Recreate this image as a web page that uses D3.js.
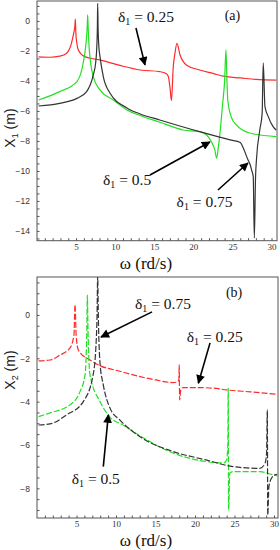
<!DOCTYPE html>
<meta charset="utf-8">
<style>
body { margin: 0; background: #fff; }
</style>
<body>
<script src="https://d3js.org/d3.v7.min.js"></script>
<script>

// ---- panel (a): X1 ----
let w1_025 = [0.2, 1.7, 2.9, 3.8, 4.4, 4.7, 4.85, 4.9, 4.97, 5.1, 5.3, 6.1, 8.0, 10.5, 13.2, 15.7, 16.5, 16.8, 17.0, 17.2, 17.43, 17.65, 17.9, 18.3, 19.1, 20.8, 22.5, 24.0, 26.0, 28.0, 30.6];
let x1_025 = [-2.4, -2.42, -2.35, -2.15, -1.5, -0.8, -0.3, 0.13, -0.8, -1.5, -1.95, -2.38, -2.6, -2.95, -3.27, -3.38, -3.5, -3.7, -4.4, -5.3, -3.05, -2.15, -1.5, -2.27, -2.93, -3.27, -3.5, -3.7, -3.8, -3.9, -3.95];

let w1_05 = [0.2, 2.9, 5.1, 5.9, 6.27, 6.42, 6.48, 6.55, 6.69, 7.2, 8.06, 9.76, 11.5, 13.2, 15.7, 18.7, 20.8, 21.7, 22.3, 22.75, 22.98, 23.2, 23.4, 23.75, 24.0, 24.17, 24.3, 24.4, 24.9, 25.5, 27.2, 30.6];
let x1_05 = [-5.27, -4.71, -4.04, -2.82, -1.47, -0.4, 0.4, -0.5, -1.93, -3.71, -4.6, -5.27, -5.93, -6.3, -6.75, -7.27, -7.38, -7.6, -8.04, -8.6, -9.15, -8.4, -7.5, -5.49, -4.0, -1.93, -4.0, -5.27, -6.47, -6.93, -7.47, -7.71];

let w1_075 = [0.2, 2.9, 5.1, 6.35, 7.2, 7.5, 7.63, 7.72, 7.76, 7.82, 7.9, 8.06, 8.48, 9.33, 11.5, 13.2, 15.7, 20.8, 24.7, 26.0, 26.4, 27.0, 27.2, 27.45, 27.66, 27.8, 27.95, 28.1, 28.5, 28.8, 28.94, 29.16, 29.58, 30.2, 30.6];
let x1_075 = [-5.67, -5.49, -5.16, -4.71, -3.6, -2.8, -1.93, -0.5, 1.18, -0.6, -1.6, -2.38, -3.71, -4.8, -5.8, -6.2, -6.6, -7.38, -7.93, -8.1, -8.49, -9.27, -9.49, -9.93, -10.38, -14.47, -10.5, -9.05, -7.27, -6.16, -2.8, -5.71, -6.38, -7.05, -7.27];

// ---- panel (b): X2 ----
let w2_025 = [0.2, 1.65, 2.91, 4.18, 4.68, 4.81, 4.95, 5.23, 6.71, 7.97, 10.5, 13.04, 15.0, 17.2, 17.7, 17.95, 18.0, 18.05, 18.2, 18.5, 20.0, 22.3, 24.0, 27.0, 30.4];
let x2_025 = [-2.12, -2.08, -1.85, -1.52, -0.92, 0.47, -0.9, -1.62, -2.08, -2.34, -2.6, -2.85, -3.0, -3.12, -3.1, -3.0, -2.3, -3.92, -3.45, -3.35, -3.35, -3.38, -3.46, -3.55, -3.66];

let w2_05 = [0.2, 1.65, 4.18, 5.44, 6.08, 6.3, 6.37, 6.45, 6.71, 7.97, 9.2, 11.0, 13.04, 17.2, 21.5, 23.6, 24.0, 24.15, 24.2, 24.25, 24.4, 24.8, 28.2, 29.9, 30.4];
let x2_05 = [-4.69, -4.52, -4.15, -3.54, -2.77, -0.8, 0.92, -0.6, -2.77, -4.0, -4.7, -5.1, -5.58, -6.37, -6.77, -6.83, -6.69, -6.0, -3.38, -9.0, -7.3, -7.23, -7.23, -7.38, -7.42];

let w2_075 = [0.2, 1.65, 3.76, 5.86, 7.1, 7.45, 7.6, 7.68, 7.76, 7.97, 8.39, 9.24, 10.5, 13.04, 17.2, 21.5, 24.8, 28.2, 28.86, 29.05, 29.15, 29.2, 29.35, 29.7, 30.1, 30.4];
let x2_075 = [-5.08, -5.03, -4.61, -4.0, -2.77, -1.5, 0.0, 1.8, 0.0, -2.2, -3.23, -4.3, -4.85, -5.62, -6.3, -6.7, -7.0, -7.08, -6.85, -6.4, -4.38, -9.23, -7.92, -7.52, -7.38, -7.35];

let xTicks = [5, 10, 15, 20, 25, 30];
let y1Ticks = [0, -2, -4, -6, -8, -10, -12, -14];
let y2Ticks = [0, -2, -4, -6, -8];

let serif = "'Liberation Serif', 'Times New Roman', Times, serif";
let sans = "'Liberation Sans', Arial, sans-serif";

let width = 280, height = 550;
let svg = d3.select("body").append("svg")
    .attr("width", width)
    .attr("height", height);

// arrowhead marker
svg.append("defs").append("marker")
    .attr("id", "head")
    .attr("viewBox", "0 0 10 10")
    .attr("refX", 9).attr("refY", 5)
    .attr("markerWidth", 6).attr("markerHeight", 5.5)
    .attr("markerUnits", "strokeWidth")
    .attr("orient", "auto")
  .append("path")
    .attr("d", "M0,0L10,5L0,10z")
    .attr("fill", "#000");

function panel(cfg) {
  let x = d3.scaleLinear().domain(cfg.xd).range([37, cfg.right]);
  let y = d3.scaleLinear().domain(cfg.yd).range([cfg.bottom, cfg.top]);
  let g = svg.append("g");

  g.append("clipPath").attr("id", cfg.id)
    .append("rect")
      .attr("x", 37).attr("y", cfg.top)
      .attr("width", cfg.right - 37).attr("height", cfg.bottom - cfg.top);

  let line = d3.line()
      .x(d => x(d[0]))
      .y(d => y(d[1]))
      .curve(d3.curveMonotoneX);

  cfg.series.forEach(s => {
    g.append("path")
      .datum(s.w.map((w, i) => [w, s.v[i]]))
      .attr("clip-path", "url(#" + cfg.id + ")")
      .attr("d", line)
      .attr("fill", "none")
      .attr("stroke", s.color)
      .attr("stroke-width", 1.2)
      .attr("stroke-dasharray", cfg.dash);
  });

  // frame
  g.append("rect")
    .attr("x", 37).attr("y", cfg.top)
    .attr("width", cfg.right - 37).attr("height", cfg.bottom - cfg.top)
    .attr("fill", "none").attr("stroke", "#555").attr("stroke-width", 1);

  // x axis, minor ticks inward
  let xa = g.append("g")
    .attr("transform", "translate(0," + cfg.bottom + ")")
    .call(d3.axisTop(x).tickValues(d3.range(1, 31)).tickSize(2.5).tickFormat(""));
  xa.select(".domain").remove();
  xa.selectAll("line").attr("stroke", "#555");
  let xl = g.append("g")
    .attr("transform", "translate(0," + cfg.bottom + ")")
    .call(d3.axisBottom(x).tickValues(xTicks).tickSize(0).tickPadding(3));
  xl.select(".domain").remove();
  xl.selectAll("text").attr("font-family", serif).attr("font-size", 9).attr("fill", "#333");

  let ya = g.append("g")
    .attr("transform", "translate(37,0)")
    .call(d3.axisRight(y).tickValues(d3.range(Math.ceil(cfg.yd[0] * 2) / 2, cfg.yd[1], 0.5)).tickSize(2.5).tickFormat(""));
  ya.select(".domain").remove();
  ya.selectAll("line").attr("stroke", "#555");
  let yl = g.append("g")
    .attr("transform", "translate(37,0)")
    .call(d3.axisLeft(y).tickValues(cfg.yTicks).tickSize(0).tickPadding(7));
  yl.select(".domain").remove();
  yl.selectAll("text").attr("font-family", sans).attr("font-size", 8.5).attr("fill", "#333");

  // axis titles
  g.append("text")
    .attr("x", 146).attr("y", cfg.xTitleY)
    .attr("text-anchor", "middle")
    .attr("font-family", serif).attr("font-size", 17).attr("fill", "#111")
    .text("ω (rd/s)");

  let yt = g.append("text")
    .attr("transform", "translate(15," + cfg.yTitleY + ") rotate(-90)")
    .attr("text-anchor", "middle")
    .attr("font-family", sans).attr("font-size", 14)
    .attr("fill", "#222");
  yt.append("tspan").text("X");
  yt.append("tspan").text(cfg.sub).attr("font-size", 9).attr("dy", 3);
  yt.append("tspan").text(" (m)").attr("dy", -3);

  // panel letter
  g.append("text")
    .attr("x", x(cfg.letter[0])).attr("y", y(cfg.letter[1]))
    .attr("text-anchor", "middle")
    .attr("font-family", serif).attr("font-size", 14).attr("fill", "#111")
    .text(cfg.letter[2]);

  // delta labels with arrows
  cfg.notes.forEach(n => {
    let t = g.append("text")
      .attr("font-family", serif).attr("font-size", 15.5).attr("fill", "#111")
      .attr("x", x(n.at[0])).attr("y", y(n.at[1]));
    t.append("tspan").text("δ");
    t.append("tspan").text("1").attr("font-size", 10).attr("dy", 3);
    t.append("tspan").text(" = " + n.label).attr("dy", -3);
    g.append("line")
      .attr("x1", x(n.from[0])).attr("y1", y(n.from[1]))
      .attr("x2", x(n.to[0])).attr("y2", y(n.to[1]))
      .attr("stroke", "#000").attr("stroke-width", 1.6)
      .attr("marker-end", "url(#head)");
  });
}

panel({
  id: "clipA", xd: [0, 30.7], yd: [-14.65, 1.33], top: 1, bottom: 240.7, right: 277,
  dash: null, yTicks: y1Ticks, sub: "1", xTitleY: 269, yTitleY: 128,
  letter: [25.0, 0.07, "(a)"],
  series: [
    { w: w1_025, v: x1_025, color: "#ff2a2a" },
    { w: w1_05, v: x1_05, color: "#22e022" },
    { w: w1_075, v: x1_075, color: "#333" }
  ],
  notes: [
    { label: "0.25", at: [10.36, -0.07], from: [12.66, -0.47], to: [13.81, -2.93] },
    { label: "0.5", at: [8.44, -10.93], from: [14.45, -10.27], to: [22.12, -8.07] },
    { label: "0.75", at: [17.86, -12.4], from: [23.15, -11.27], to: [26.98, -9.47] }
  ]
});

panel({
  id: "clipB", xd: [0, 30.5], yd: [-9.37, 1.75], top: 277, bottom: 518, right: 278,
  dash: "6,2", yTicks: y2Ticks, sub: "2", xTitleY: 546, yTitleY: 370,
  letter: [24.94, 0.83, "(b)"],
  series: [
    { w: w2_025, v: x2_025, color: "#ff2a2a" },
    { w: w2_05, v: x2_05, color: "#22e022" },
    { w: w2_075, v: x2_075, color: "#333" }
  ],
  notes: [
    { label: "0.75", at: [12.41, 0.28], from: [14.56, 0.14], to: [8.1, -1.02] },
    { label: "0.25", at: [18.95, -1.25], from: [21.9, -1.29], to: [20.42, -3.15] },
    { label: "0.5", at: [4.39, -7.8], from: [8.39, -7.0], to: [9.03, -4.61] }
  ]
});

</script>
